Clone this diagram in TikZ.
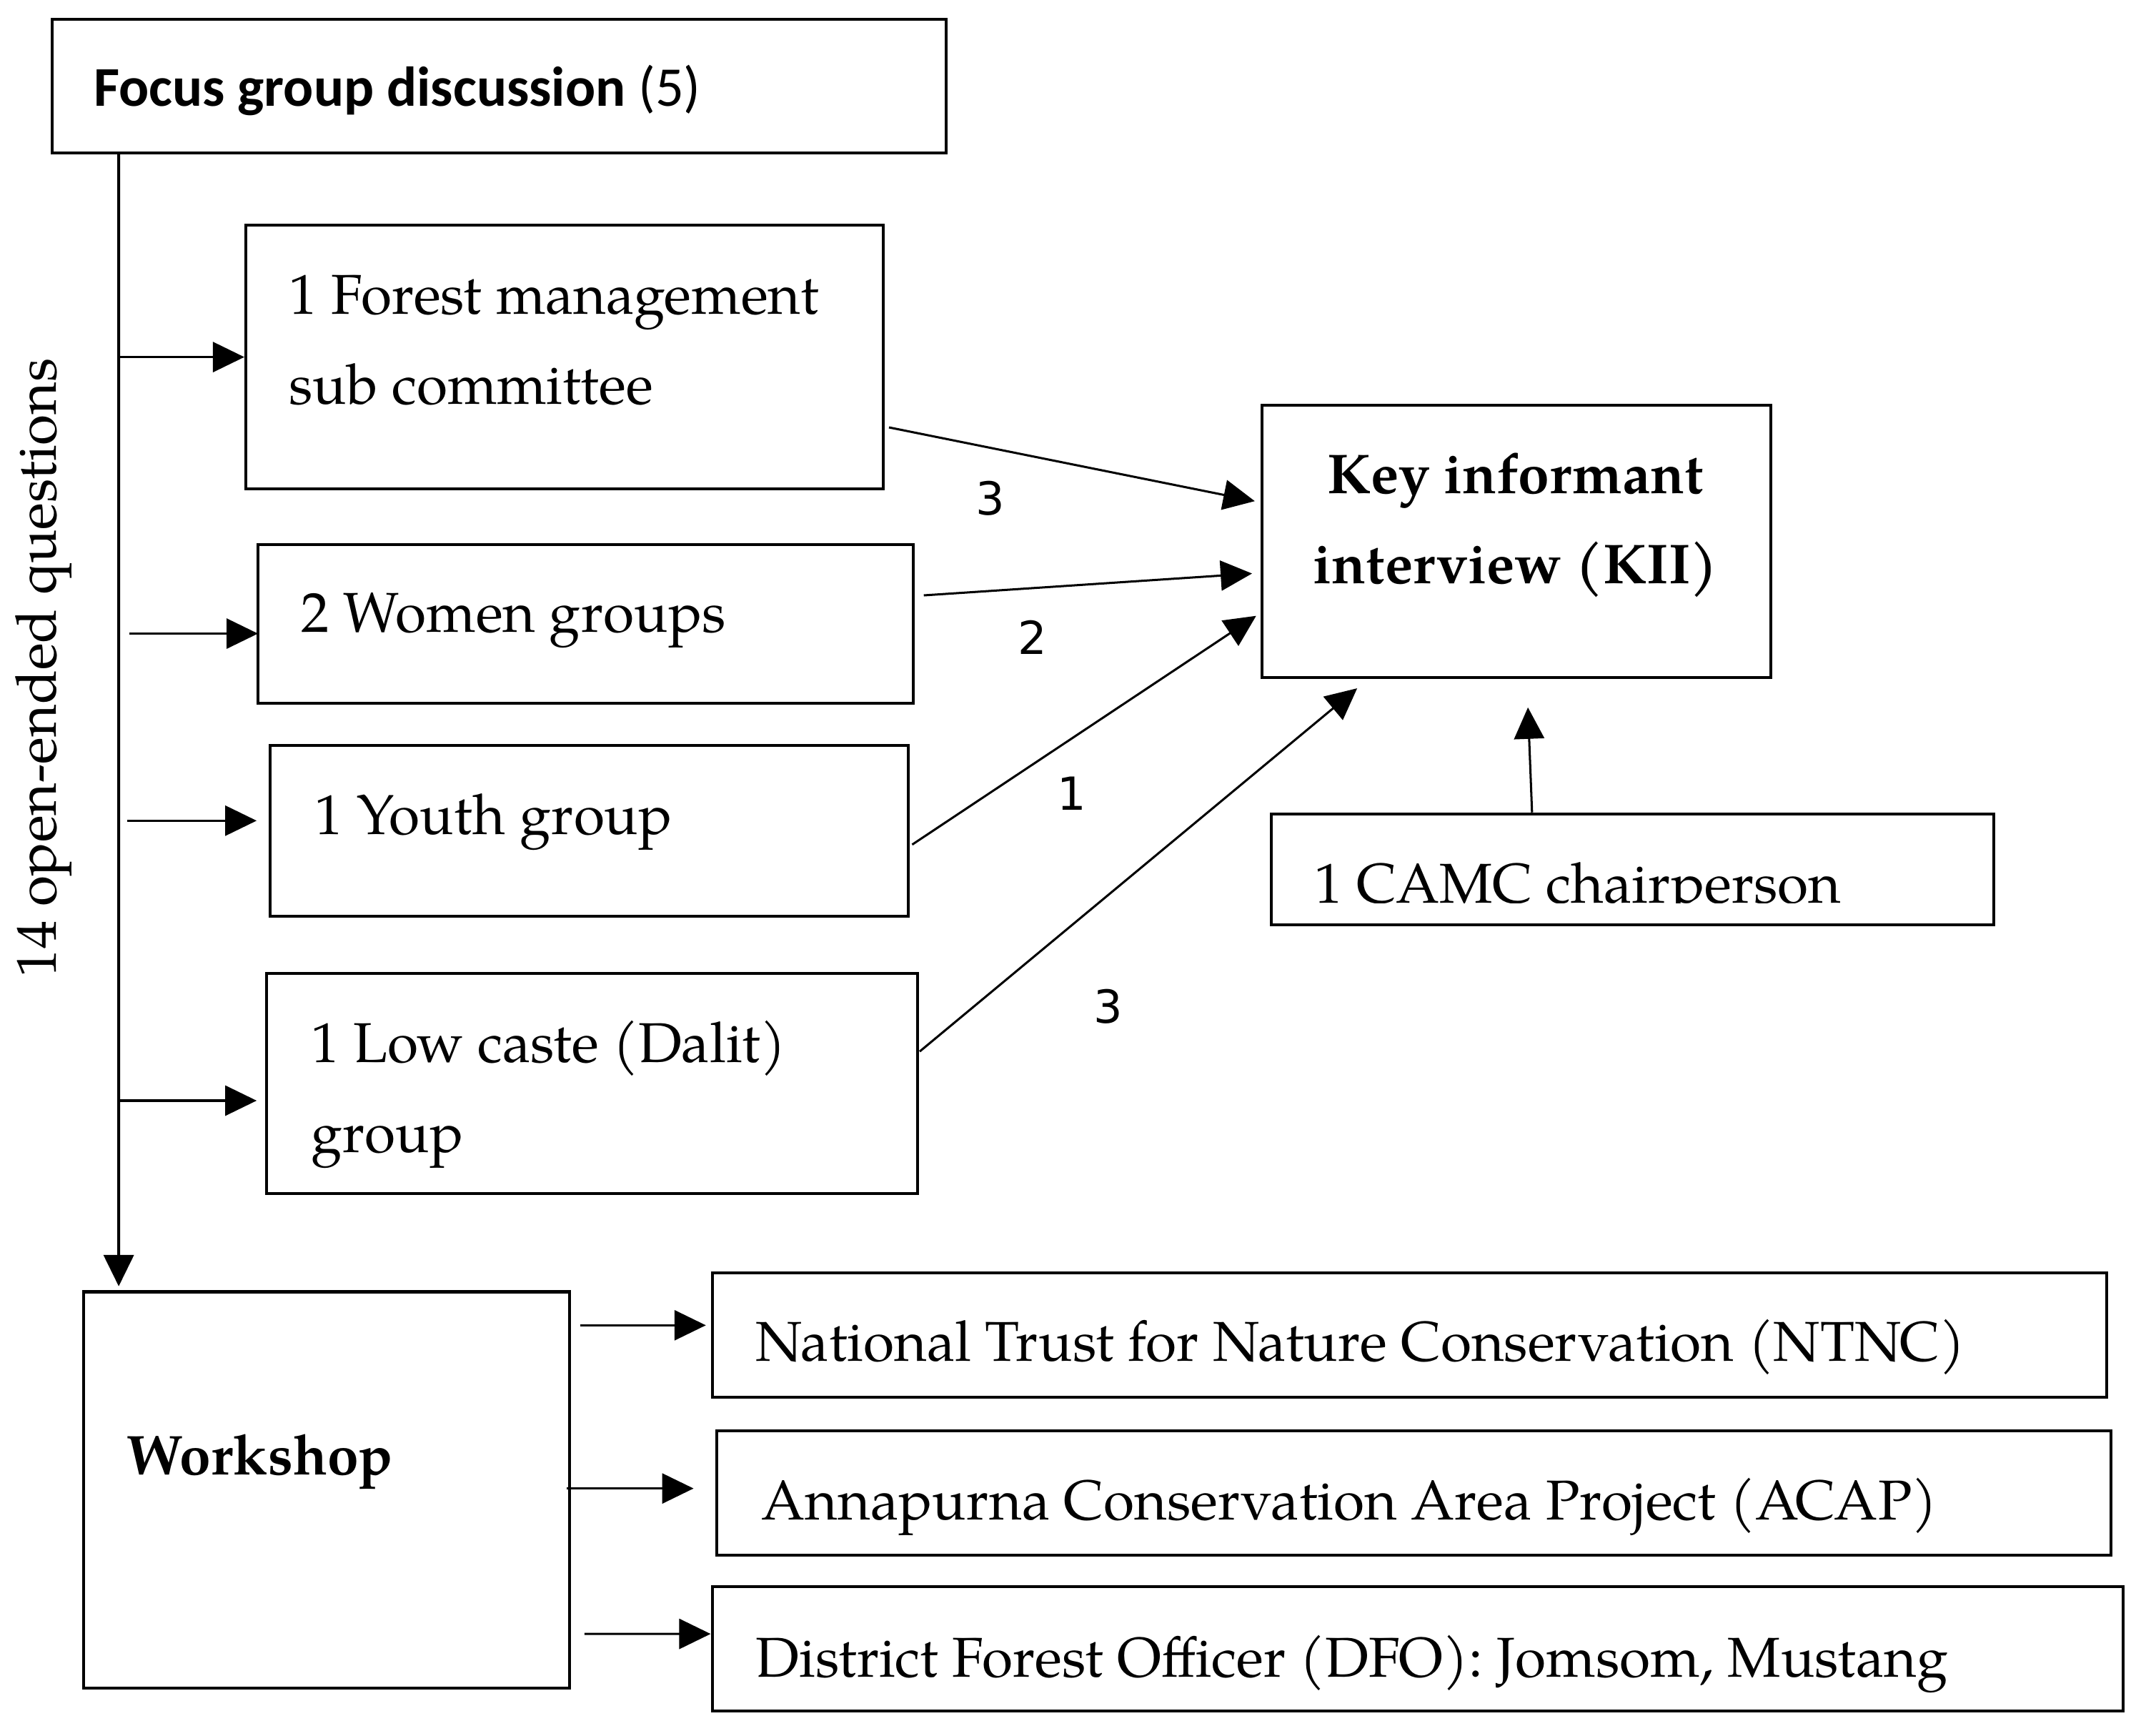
\documentclass[tikz,border=0pt]{standalone}
\usepackage{fontspec}
\setmainfont{TeX Gyre Pagella}
\newfontfamily\calibri{Carlito}
\newfontfamily\dejavu{DejaVu Sans}
\usepackage{tikz}
\usetikzlibrary{arrows.meta}
\tikzset{
    every node/.style={inner sep=0pt, font=\fontsize{11.7}{18.8}\selectfont}
}
\tikzset{
    box/.style={draw, rectangle, line width=0.6pt},
    count/.style={font=\dejavu\fontsize{9.5}{11}\selectfont}
}
\tikzset{
    every edge/.append style={line width=0.45pt,
    	-{Triangle[length=2.3mm,width=2.2mm]}}
}

\begin{document}
\begin{tikzpicture}
	\useasboundingbox (0,0) rectangle (15.68cm,12.71cm);

	\node (1) [box, minimum width=6.55cm, minimum height=0.98cm] at (3.655cm,12.08cm) {};
	\node (2) [box, minimum width=4.67cm, minimum height=1.93cm] at (4.135cm,10.095cm) {};
	\node (3) [box, minimum width=4.80cm, minimum height=1.16cm] at (4.29cm,8.14cm) {};
	\node (4) [box, minimum width=4.67cm, minimum height=1.25cm] at (4.315cm,6.625cm) {};
	\node (5) [box, minimum width=4.77cm, minimum height=1.61cm] at (4.335cm,4.775cm) {};
	\node (6) [box, minimum width=3.73cm, minimum height=1.99cm] at (11.105cm,8.745cm) {};
	\node (7) [box, minimum width=5.29cm, minimum height=0.81cm] at (11.955cm,6.345cm) {};
	\node (8) [box, minimum width=10.21cm, minimum height=0.91cm] at (10.325cm,2.935cm) {};
	\node (9) [box, minimum width=10.21cm, minimum height=0.91cm] at (10.355cm,1.775cm) {};
	\node (10) [box, minimum width=10.33cm, minimum height=0.91cm] at (10.385cm,0.635cm) {};
	\node (11) [box, minimum width=3.56cm, minimum height=2.90cm] at (2.39cm,1.80cm) {};

	\node (1t) [anchor=base west] at (0.68cm,11.93cm) {\calibri\textbf{Focus group discussion} (5)};
	\node (2t) [anchor=west, align=left] at (2.11cm,10.22cm) {1 Forest management\\sub committee};
	\node (3t) [anchor=base west] at (2.20cm,8.08cm) {2 Women groups};
	\node (4t) [anchor=base west] at (2.30cm,6.60cm) {1 Youth group};
	\node (5t) [anchor=west, align=left] at (2.27cm,4.695cm) {1 Low caste (Dalit)\\group};
	\node (6t) [align=center] at (11.10cm,8.865cm) {\textbf{Key informant}\\\textbf{interview (KII)}};
	\begin{scope}
		\clip (9.35cm,6.095cm) rectangle (14.55cm,6.74cm);
		\node (7t) [anchor=base west] at (9.62cm,6.095cm) {1 CAMC chairperson};
	\end{scope}
	\node (8t) [anchor=base west] at (5.53cm,2.74cm) {National Trust for Nature Conservation (NTNC)};
	\node (9t) [anchor=base west] at (5.57cm,1.58cm) {Annapurna Conservation Area Project (ACAP)};
	\node (10t) [anchor=base west] at (5.53cm,0.43cm) {District Forest Officer (DFO): Jomsom, Mustang};
	\node (11t) [anchor=base west] at (0.92cm,1.91cm) {\textbf{Workshop}};
	\node (q) [rotate=90, anchor=base] at (0.41cm,7.82cm) {14 open-ended questions};

	\node (c1) [count] at (7.25cm,9.06cm) {3};
	\node (c2) [count] at (7.56cm,8.04cm) {2};
	\node (c3) [count] at (7.85cm,6.90cm) {1};
	\node (c4) [count] at (8.115cm,5.34cm) {3};

	\coordinate (trunk) at (0.88cm,0);
	\draw ([xshift=0.5cm]1.south west) edge [line width=0.6pt] ([shift={(0.27cm,0.03cm)}]11.north west);
	\draw (2.west -| trunk) edge (2.west);
	\draw ([shift={(-0.93cm,-0.07cm)}]3.west) edge ([shift={(0.01cm,-0.07cm)}]3.west);
	\draw ([shift={(-1.04cm,0.075cm)}]4.west) edge ([shift={(-0.09cm,0.075cm)}]4.west);
	\draw ([shift={(-1.06cm,-0.125cm)}]5.west) edge ([shift={(-0.06cm,-0.125cm)}]5.west);

	\draw ([shift={(0.03cm,-0.515cm)}]2.east) edge ([shift={(-0.04cm,0.295cm)}]6.west);
	\draw ([shift={(0.065cm,0.21cm)}]3.east) edge ([shift={(-0.06cm,-0.235cm)}]6.west);
	\draw ([shift={(0.02cm,-0.10cm)}]4.east) edge ([shift={(-0.03cm,-0.545cm)}]6.west);
	\draw ([shift={(0.005cm,0.235cm)}]5.east) edge ([shift={(0.71cm,-0.07cm)}]6.south west);
	\draw ([xshift=-0.735cm]7.north) edge ([shift={(0.085cm,-0.21cm)}]6.south);

	\draw ([shift={(0.07cm,1.205cm)}]11.east) edge ([shift={(-0.04cm,0.07cm)}]8.west);
	\draw ([shift={(-0.03cm,0.01cm)}]11.east) edge ([shift={(-0.16cm,0.035cm)}]9.west);
	\draw ([shift={(0.10cm,-1.055cm)}]11.east) edge ([shift={(-0.005cm,0.11cm)}]10.west);
\end{tikzpicture}
\end{document}
